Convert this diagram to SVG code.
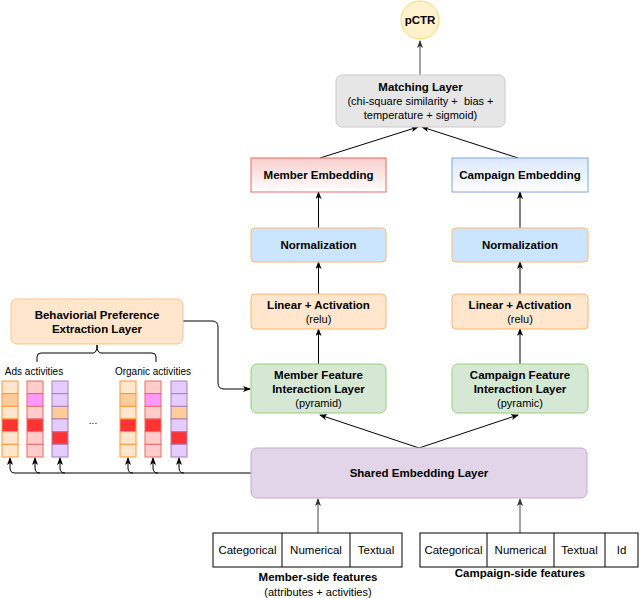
<svg xmlns="http://www.w3.org/2000/svg" width="640" height="598" viewBox="0 0 640 598">
<style>
text{font-family:"Liberation Sans",Arial,sans-serif;fill:#000;text-anchor:middle}
.b{font-weight:bold;font-size:11.5px}
.n{font-size:11px}
.s{font-size:10px}
.t{font-size:11.5px}
.e{stroke:#000;stroke-width:1;fill:none}
.g{stroke:#666;stroke-width:1.2;fill:none}
</style>
<defs>
<marker id="a" viewBox="0 0 8 6" refX="7" refY="3" markerWidth="8" markerHeight="6" markerUnits="userSpaceOnUse" orient="auto">
<path d="M0,0 L8,3 L0,6 L2,3 z" fill="#000"/>
</marker>
<marker id="ag" viewBox="0 0 8 6" refX="7" refY="3" markerWidth="8" markerHeight="6" markerUnits="userSpaceOnUse" orient="auto">
<path d="M0,0 L8,3 L0,6 L2,3 z" fill="#333"/>
</marker>
<linearGradient id="gm" x1="0" y1="0" x2="0" y2="1"><stop offset="0" stop-color="#F8CECC"/><stop offset="1" stop-color="#FFFFFF"/></linearGradient>
<linearGradient id="gc" x1="0" y1="0" x2="0" y2="1"><stop offset="0" stop-color="#DAE8FC"/><stop offset="1" stop-color="#FFFFFF"/></linearGradient>
</defs>

<g id="connectors">
<line class="g" x1="420" y1="75" x2="420" y2="41" marker-end="url(#ag)"/>
<line class="e" x1="320" y1="158" x2="418" y2="127" marker-end="url(#a)"/>
<line class="e" x1="518" y1="158" x2="422" y2="127" marker-end="url(#a)"/>
<line class="e" x1="318.5" y1="228" x2="318.5" y2="192" marker-end="url(#a)"/>
<line class="e" x1="520" y1="228" x2="520" y2="192" marker-end="url(#a)"/>
<line class="e" x1="318.5" y1="294" x2="318.5" y2="262" marker-end="url(#a)"/>
<line class="e" x1="520" y1="294" x2="520" y2="262" marker-end="url(#a)"/>
<line class="e" x1="318.5" y1="364" x2="318.5" y2="329" marker-end="url(#a)"/>
<line class="e" x1="520" y1="364" x2="520" y2="329" marker-end="url(#a)"/>
<line class="e" x1="419" y1="448" x2="320" y2="415" marker-end="url(#a)"/>
<line class="e" x1="419" y1="448" x2="518" y2="415" marker-end="url(#a)"/>
<line class="g" x1="318" y1="533" x2="318" y2="499" marker-end="url(#ag)"/>
<line class="g" x1="520" y1="533" x2="520" y2="499" marker-end="url(#ag)"/>
<path class="e" d="M183 321 L212 321 Q218 321 218 327 L218 383 Q218 389 224 389 L250 389" marker-end="url(#a)"/>
<path class="e" d="M251 473 L15 473 Q10 473 10 468 L10 458" marker-end="url(#a)"/>
<path class="e" d="M40 473 Q35 473 35 468 L35 458" marker-end="url(#a)"/>
<path class="e" d="M65 473 Q60 473 60 468 L60 458" marker-end="url(#a)"/>
<path class="e" d="M133 473 Q128 473 128 468 L128 458" marker-end="url(#a)"/>
<path class="e" d="M158 473 Q153 473 153 468 L153 458" marker-end="url(#a)"/>
<path class="e" d="M184 473 Q179 473 179 468 L179 458" marker-end="url(#a)"/>
<path class="e" d="M37 362 L37 357 Q37 353 41 353 L93 353 Q97 353 97 345 Q97 353 101 353 L152 353 Q156 353 156 357 L156 362"/>
</g>

<g id="pctr">
<circle cx="420" cy="20" r="19" fill="#FFF2CC" stroke="#FFD966" stroke-width="1"/>
<text class="b" x="420" y="24">pCTR</text>
</g>

<g id="matching">
<rect x="336" y="75" width="169" height="52" rx="6" fill="#E6E6E6" stroke="#CCCCCC"/>
<text class="b" x="420.5" y="91">Matching Layer</text>
<text class="n" x="420.5" y="105" xml:space="preserve">(chi-square similarity +  bias +</text>
<text class="n" x="420.5" y="119">temperature + sigmoid)</text>
</g>

<g id="member-embedding">
<rect x="251" y="158" width="135" height="34" fill="url(#gm)" stroke="#EA6B66"/>
<text class="b" x="318.5" y="179">Member Embedding</text>
</g>
<g id="campaign-embedding">
<rect x="452" y="158" width="136" height="34" fill="url(#gc)" stroke="#7EA6E0"/>
<text class="b" x="520" y="179">Campaign Embedding</text>
</g>

<g id="member-norm">
<rect x="251" y="228" width="135" height="34" rx="4" fill="#CCE5FF" stroke="#FFB570"/>
<text class="b" x="318.5" y="249">Normalization</text>
</g>
<g id="campaign-norm">
<rect x="452" y="228" width="136" height="34" rx="4" fill="#CCE5FF" stroke="#FFB570"/>
<text class="b" x="520" y="249">Normalization</text>
</g>

<g id="member-linear">
<rect x="251" y="294" width="135" height="35" rx="4" fill="#FFE6CC" stroke="#FFB570"/>
<text class="b" x="318.5" y="309">Linear + Activation</text>
<text class="n" x="318.5" y="323">(relu)</text>
</g>
<g id="campaign-linear">
<rect x="452" y="294" width="136" height="35" rx="4" fill="#FFE6CC" stroke="#FFB570"/>
<text class="b" x="520" y="309">Linear + Activation</text>
<text class="n" x="520" y="323">(relu)</text>
</g>

<g id="member-interaction">
<rect x="251" y="364" width="135" height="49" rx="6" fill="#D5E8D4" stroke="#97D077"/>
<text class="b" x="318.5" y="379">Member Feature</text>
<text class="b" x="318.5" y="393">Interaction Layer</text>
<text class="n" x="318.5" y="407">(pyramid)</text>
</g>
<g id="campaign-interaction">
<rect x="452" y="364" width="136" height="49" rx="6" fill="#D5E8D4" stroke="#97D077"/>
<text class="b" x="520" y="379">Campaign Feature</text>
<text class="b" x="520" y="393">Interaction Layer</text>
<text class="n" x="520" y="407">(pyramic)</text>
</g>

<g id="behavioral">
<rect x="11" y="299" width="172" height="45" rx="6" fill="#FFE6CC" stroke="#F9C38C"/>
<text class="b" x="97" y="319">Behaviorial Preference</text>
<text class="b" x="97" y="333">Extraction Layer</text>
</g>

<g id="activities">
<text class="s" x="34" y="375">Ads activities</text>
<text class="s" x="153" y="375">Organic activities</text>
<text class="s" x="93" y="424">...</text>
<g id="col1" stroke="#FF9933">
<rect x="2" y="381" width="16" height="12.67" fill="#FFE6CC"/>
<rect x="2" y="393.67" width="16" height="12.67" fill="#FFCC99"/>
<rect x="2" y="406.33" width="16" height="12.67" fill="#FFE6CC"/>
<rect x="2" y="419" width="16" height="12.67" fill="#FF3333"/>
<rect x="2" y="431.67" width="16" height="12.67" fill="#FFE6CC"/>
<rect x="2" y="444.33" width="16" height="12.67" fill="#FFE6CC"/>
</g>
<g id="col2" stroke="#EA6B66">
<rect x="27" y="381" width="16" height="12.67" fill="#FFCCCC"/>
<rect x="27" y="393.67" width="16" height="12.67" fill="#FF99FF"/>
<rect x="27" y="406.33" width="16" height="12.67" fill="#FFCCCC"/>
<rect x="27" y="419" width="16" height="12.67" fill="#FF3333"/>
<rect x="27" y="431.67" width="16" height="12.67" fill="#FFCCCC"/>
<rect x="27" y="444.33" width="16" height="12.67" fill="#FFCCCC"/>
</g>
<g id="col3" stroke="#A680B8">
<rect x="52" y="381" width="16" height="12.67" fill="#E5CCFF"/>
<rect x="52" y="393.67" width="16" height="12.67" fill="#E5CCFF"/>
<rect x="52" y="406.33" width="16" height="12.67" fill="#FFCC99"/>
<rect x="52" y="419" width="16" height="12.67" fill="#E5CCFF"/>
<rect x="52" y="431.67" width="16" height="12.67" fill="#FF3333"/>
<rect x="52" y="444.33" width="16" height="12.67" fill="#E5CCFF"/>
</g>
<g id="col4" stroke="#FF9933">
<rect x="120" y="381" width="16" height="12.67" fill="#FFE6CC"/>
<rect x="120" y="393.67" width="16" height="12.67" fill="#FFCC99"/>
<rect x="120" y="406.33" width="16" height="12.67" fill="#FFE6CC"/>
<rect x="120" y="419" width="16" height="12.67" fill="#FF3333"/>
<rect x="120" y="431.67" width="16" height="12.67" fill="#FFE6CC"/>
<rect x="120" y="444.33" width="16" height="12.67" fill="#FFE6CC"/>
</g>
<g id="col5" stroke="#EA6B66">
<rect x="145" y="381" width="16" height="12.67" fill="#FFCCCC"/>
<rect x="145" y="393.67" width="16" height="12.67" fill="#FF99FF"/>
<rect x="145" y="406.33" width="16" height="12.67" fill="#FFCCCC"/>
<rect x="145" y="419" width="16" height="12.67" fill="#FF3333"/>
<rect x="145" y="431.67" width="16" height="12.67" fill="#FFCCCC"/>
<rect x="145" y="444.33" width="16" height="12.67" fill="#FFCCCC"/>
</g>
<g id="col6" stroke="#A680B8">
<rect x="171" y="381" width="16" height="12.67" fill="#E5CCFF"/>
<rect x="171" y="393.67" width="16" height="12.67" fill="#E5CCFF"/>
<rect x="171" y="406.33" width="16" height="12.67" fill="#FFCC99"/>
<rect x="171" y="419" width="16" height="12.67" fill="#E5CCFF"/>
<rect x="171" y="431.67" width="16" height="12.67" fill="#FF3333"/>
<rect x="171" y="444.33" width="16" height="12.67" fill="#E5CCFF"/>
</g>
</g>

<g id="shared-embedding">
<rect x="251" y="448" width="336" height="50" rx="6" fill="#E1D5E7" stroke="#C3ABD0"/>
<text class="b" x="419" y="477">Shared Embedding Layer</text>
</g>

<g id="member-features">
<rect x="213" y="533" width="189" height="34" fill="#FFFFFF" stroke="#000"/>
<line x1="282" y1="533" x2="282" y2="567" stroke="#000"/>
<line x1="350" y1="533" x2="350" y2="567" stroke="#000"/>
<text class="t" x="247.5" y="554">Categorical</text>
<text class="t" x="316" y="554">Numerical</text>
<text class="t" x="376" y="554">Textual</text>
<text class="b" x="318" y="581">Member-side features</text>
<text class="n" x="318" y="596">(attributes + activities)</text>
</g>

<g id="campaign-features">
<rect x="420" y="533" width="218" height="34" fill="#FFFFFF" stroke="#000"/>
<line x1="487" y1="533" x2="487" y2="567" stroke="#000"/>
<line x1="554" y1="533" x2="554" y2="567" stroke="#000"/>
<line x1="605" y1="533" x2="605" y2="567" stroke="#000"/>
<text class="t" x="453.5" y="554">Categorical</text>
<text class="t" x="520.5" y="554">Numerical</text>
<text class="t" x="579.5" y="554">Textual</text>
<text class="t" x="621.5" y="554">Id</text>
<text class="b" x="520" y="577">Campaign-side features</text>
</g>
</svg>
